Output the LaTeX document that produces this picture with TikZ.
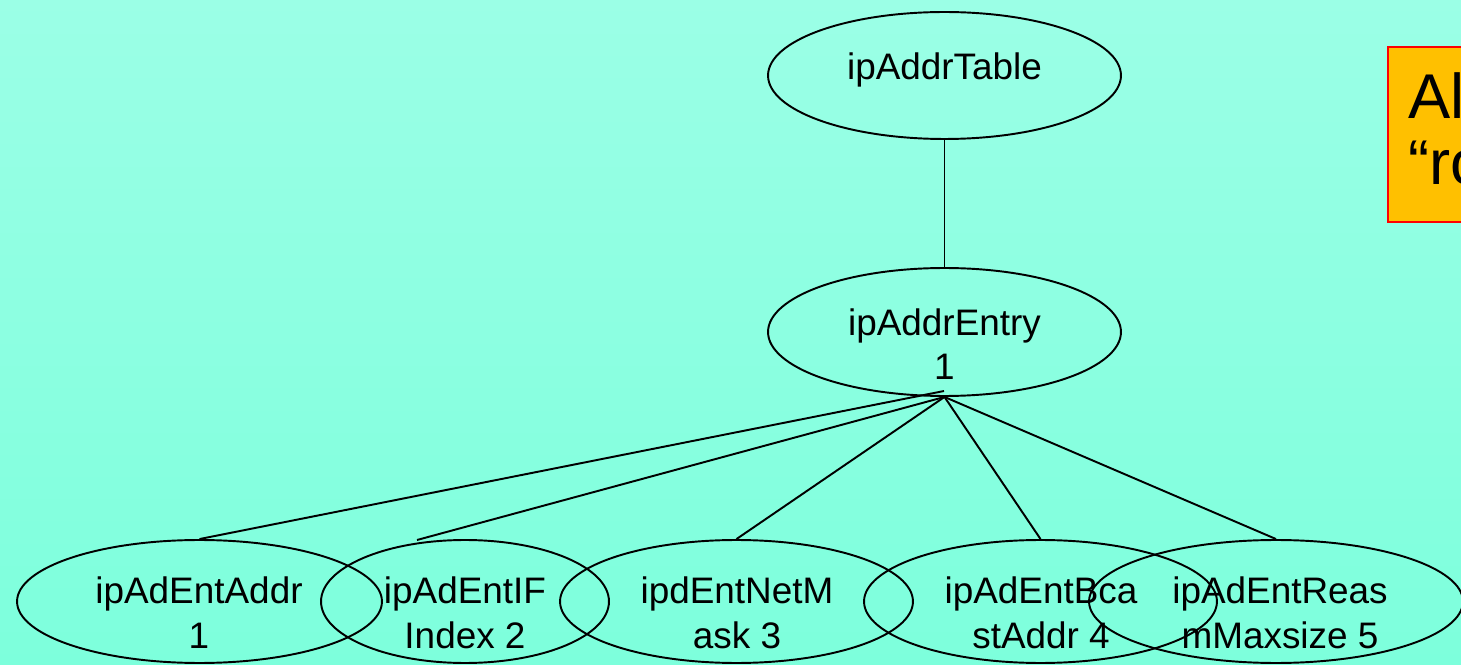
\documentclass[tikz,border=0pt]{standalone}
\usepackage{fontspec}
\setmainfont{Liberation Sans}
\usetikzlibrary{shapes.geometric}
\definecolor{bgtop}{RGB}{155,255,230}
\definecolor{bgbot}{RGB}{125,255,220}
\definecolor{notefill}{RGB}{255,192,0}
\definecolor{noteline}{RGB}{255,0,0}
\begin{document}
\begin{tikzpicture}[x=0.02cm,y=-0.02cm,
  obj/.style={ellipse, draw=black, line width=1.1pt, inner sep=0pt},
  lbl/.style={font=\fontsize{21}{25.5}\selectfont, align=center, inner sep=0pt, anchor=base},
  link/.style={line width=1.1pt}]
  % canvas with vertical gradient
  \useasboundingbox (0,0) rectangle (1461,665);
  \clip (0,0) rectangle (1461,665);
  \shade[top color=bgtop, bottom color=bgbot] (0,0) rectangle (1461,665);

  % table and entry
  \node[obj, minimum width=7.06cm, minimum height=2.54cm] (tbl) at (944.5,75.5) {};
  \node[obj, minimum width=7.06cm, minimum height=2.56cm] (ent) at (944.5,332) {};
  % labels are anchored at the baseline of their last line
  \node[lbl] (tbltxt) at (944.5,80) {ipAddrTable};
  \node[lbl] (enttxt) at (944.5,380) {ipAddrEntry\\1};

  % columns
  \node[obj, minimum width=7.30cm, minimum height=2.46cm] (c1) at (199.5,601.5) {};
  \node[obj, minimum width=5.76cm, minimum height=2.46cm] (c2) at (465,601.5) {};
  \node[obj, minimum width=7.06cm, minimum height=2.46cm] (c3) at (736.5,601.5) {};
  \node[obj, minimum width=7.06cm, minimum height=2.46cm] (c4) at (1040.5,601.5) {};
  \node[obj, minimum width=7.48cm, minimum height=2.46cm] (c5) at (1276,601.5) {};
  \node[lbl] (c1txt) at (199,648) {ipAdEntAddr\\1};
  \node[lbl] (c2txt) at (465,648) {ipAdEntIF\\Index 2};
  \node[lbl] (c3txt) at (737,648) {ipdEntNetM\\ask 3};
  \node[lbl] (c4txt) at (1041,648) {ipAdEntBca\\stAddr 4};
  \node[lbl] (c5txt) at (1280,648) {ipAdEntReas\\mMaxsize 5};

  % connectors
  \coordinate (hubtip) at (944,391);
  \coordinate (c2end) at (417,540);
  \draw[link] (tbl.south) -- (ent.north);
  \draw[link] (hubtip) -- (c1.north);
  \draw[link] (ent.south) -- (c2end);
  \draw[link] (ent.south) -- (c3.north);
  \draw[link] (ent.south) -- (c4.north);
  \draw[link] (ent.south) -- (c5.north);

  % note box
  \node[draw=noteline, fill=notefill, line width=1.1pt, anchor=north west,
        minimum width=2.2cm, minimum height=3.5cm, inner sep=0pt] (note) at (1387,46) {};
  \node[font=\fontsize{36}{38}\selectfont, align=left, anchor=base west, inner sep=0pt]
        (notetxt) at (1408,185) {Al\\“ro};
\end{tikzpicture}
\end{document}
